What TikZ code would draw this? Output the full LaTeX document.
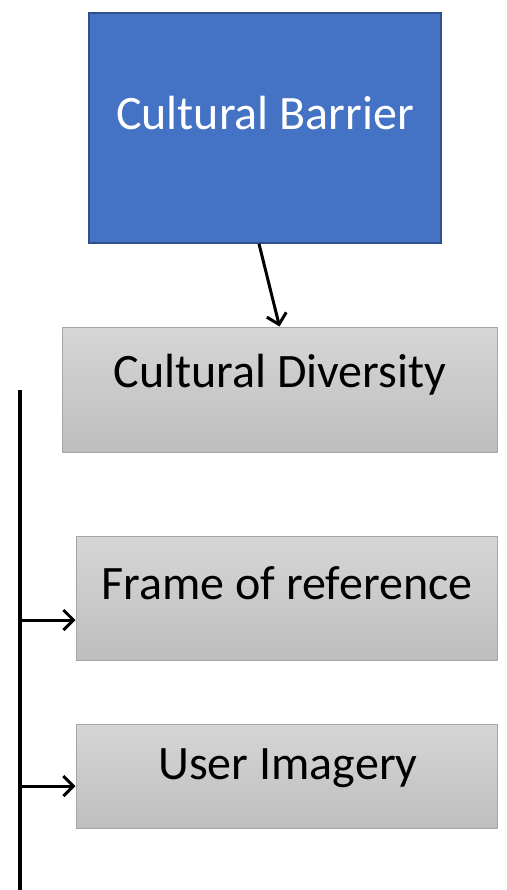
\documentclass[tikz,border=0pt]{standalone}
\usepackage{fontspec}
\setmainfont{Carlito}
\usetikzlibrary{arrows.meta,calc}
\definecolor{bluefill}{HTML}{4472C4}
\definecolor{blueline}{HTML}{2F528F}
\definecolor{gtop}{HTML}{D6D6D6}
\definecolor{gbot}{HTML}{BEBEBE}
\definecolor{gline}{HTML}{A6A6A6}
\tikzset{
  bluebox/.style={draw=blueline, line width=1.5pt, fill=bluefill, rectangle, inner sep=0pt},
  graybox/.style={draw=gline, line width=1pt, top color=gtop, bottom color=gbot, rectangle, inner sep=0pt},
  lbl/.style={font=\fontsize{48}{52}\selectfont, inner sep=0pt, anchor=center},
  arr/.style={line width=3pt, -{Straight Barb[length=10pt,width=20pt]}},
  trunk/.style={line width=3.5pt}
}
\begin{document}
\begin{tikzpicture}[x=1pt,y=-1pt]
\useasboundingbox (0,0) rectangle (506,890);
\node[bluebox, minimum width=352pt, minimum height=230pt] (cb) at (265,128) {};
\node[lbl, text=white] (cbt) at (265,113) {Cultural Barrier};
\node[graybox, minimum width=435pt, minimum height=125pt] (cd) at (279.5,389.5) {};
\node[lbl] (cdt) at (280,375) {Cultural Diversity};
\node[graybox, minimum width=421pt, minimum height=124pt] (fr) at (286.5,598) {};
\node[lbl] (frt) at (287,583) {Frame of reference};
\node[graybox, minimum width=421pt, minimum height=104pt] (ui) at (286.5,776) {};
\node[lbl] (uit) at (288,768) {User Imagery};
\draw[arr] ($(cb.south west)!0.483!(cb.south east)$) -- (cd.north);
\coordinate (ttop) at (20,390);
\coordinate (tbot) at (20,890);
\draw[trunk] (ttop) -- (tbot);
\coordinate (j1) at (20,620);
\coordinate (j2) at (20,786);
\draw[arr] (j1) -- (j1 -| fr.west);
\draw[arr] (j2) -- (j2 -| ui.west);
\end{tikzpicture}
\end{document}
